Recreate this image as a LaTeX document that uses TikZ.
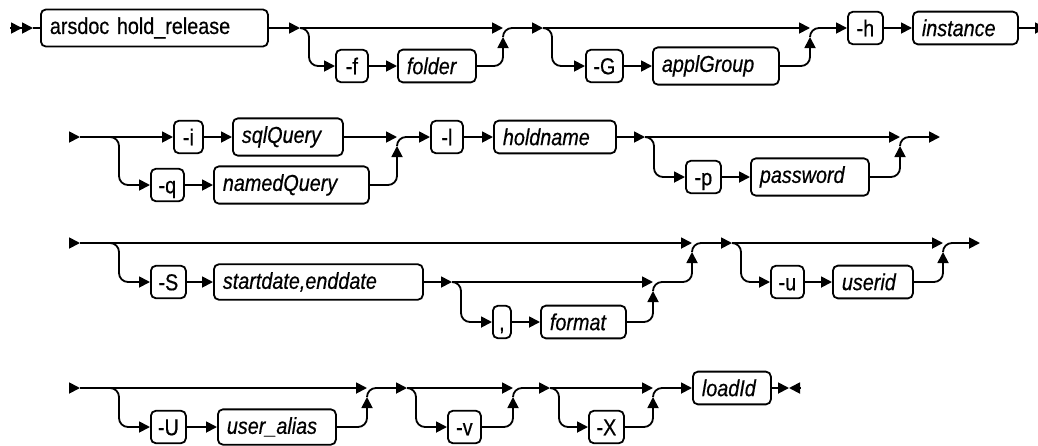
\documentclass[tikz,border=0pt]{standalone}
\usepackage{fontspec}
\setmainfont{Liberation Sans}[FakeStretch=0.86,FakeBold=0.5]
\usetikzlibrary{arrows.meta}
\newcommand\kwfont{\fontsize{23}{27}\selectfont}
\newcommand\varfont{\fontsize{23}{27}\selectfont\itshape}
\tikzset{
  rail/.style={line width=1.8pt},
  tip/.style={-{Triangle[length=11pt,width=11pt]}},
  turn/.style={rounded corners=9pt},
  box/.style={draw,line width=1.8pt,rounded corners=5pt,anchor=west,
    inner xsep=9pt,inner ysep=8pt,text height=16.5pt,font=\kwfont},
  term/.style={box,text width=#1,align=left},
  var/.style={term=#1,font=\varfont},
  opt/.style={box,inner xsep=5pt,text depth=0pt,minimum width=#1,align=center},
}
\begin{document}
\begin{tikzpicture}[x=1pt,y=-1pt,rail]
\clip (0,0) rectangle (1038,445);
% first line
\coordinate (a1) at (10,28);
\coordinate (a2) at (33,28);
\node[term=209] (cmd) at (40,28) {arsdoc hold\_release};
\coordinate (s1) at (300,28);
\node[opt=32] (f) at (335,66) {-f};
\node[var=60] (folder) at (397,66) {folder};
\coordinate (j1) at (503,28);
\coordinate (u1) at (503,37);
\coordinate (k1) at (512,28);
\coordinate (s2) at (543,28);
\node[opt=37] (G) at (585,66) {-G};
\node[var=108] (group) at (652,66) {applGroup};
\coordinate (j2) at (810,28);
\coordinate (u2) at (810,37);
\coordinate (k2) at (819,28);
\node[opt=35] (h) at (847,28) {-h};
\node[var=87] (inst) at (912,28) {instance};
\coordinate (e1) at (1046,28);
\draw[-{Triangle[length=11pt,width=11pt]Triangle[length=11pt,width=11pt]}] (a1) -- (a2);
\draw (a2) -- (cmd.west);
\draw[tip] (cmd.east) -- (s1);
\draw[tip] (s1) -- (j1);
\draw[turn,tip] (s1) -- ++(9,0) |- (f.west);
\draw[tip] (f) -- (folder);
\draw[turn,tip] (folder.east) -| (u1);
\draw (u1) .. controls +(0,-5) and +(-5,0) .. (k1);
\draw[tip] (k1) -- (s2);
\draw[tip] (s2) -- (j2);
\draw[turn,tip] (s2) -- ++(9,0) |- (G.west);
\draw[tip] (G) -- (group);
\draw[turn,tip] (group.east) -| (u2);
\draw (u2) .. controls +(0,-5) and +(-5,0) .. (k2);
\draw[tip] (k2) -- (h);
\draw[tip] (h) -- (inst);
\draw[tip] (inst) -- (e1);
% second line
\coordinate (a3) at (69,137);
\coordinate (a4) at (80,137);
\coordinate (b2) at (110,137);
\node[opt=29] (i) at (173,137) {-i};
\node[var=92] (sql) at (232,137) {sqlQuery};
\node[opt=33] (q) at (150,185) {-q};
\node[var=137] (named) at (213,185) {namedQuery};
\coordinate (j3) at (397,137);
\coordinate (u3) at (397,146);
\coordinate (k3) at (406,137);
\node[opt=32] (l) at (430,137) {-l};
\node[var=104] (hold) at (493,137) {holdname};
\coordinate (s3) at (645,137);
\node[opt=35] (p) at (685,177) {-p};
\node[var=100] (pass) at (750,177) {password};
\coordinate (j4) at (900,137);
\coordinate (u4) at (900,146);
\coordinate (k4) at (909,137);
\coordinate (e2) at (940,137);
\draw[tip] (a3) -- (a4);
\draw[tip] (a4) -- (i);
\draw[turn,tip] (b2) -- ++(9,0) |- (q.west);
\draw[tip] (i) -- (sql);
\draw[tip] (sql) -- (j3);
\draw[tip] (q) -- (named);
\draw[turn,tip] (named.east) -| (u3);
\draw (u3) .. controls +(0,-5) and +(-5,0) .. (k3);
\draw[tip] (k3) -- (l);
\draw[tip] (l) -- (hold);
\draw[tip] (hold) -- (s3);
\draw[tip] (s3) -- (j4);
\draw[turn,tip] (s3) -- ++(9,0) |- (p.west);
\draw[tip] (p) -- (pass);
\draw[turn,tip] (pass.east) -| (u4);
\draw (u4) .. controls +(0,-5) and +(-5,0) .. (k4);
\draw[tip] (k4) -- (e2);
% third line
\coordinate (a5) at (69,243);
\coordinate (a6) at (80,243);
\coordinate (b3) at (110,243);
\node[opt=35] (S) at (150,282) {-S};
\node[var=191] (dates) at (213,282) {startdate,enddate};
\coordinate (s4) at (452,282);
\node[opt=18] (comma) at (492,322) {,};
\node[var=67] (fmt) at (540,322) {format};
\coordinate (j6) at (653,282);
\coordinate (u6) at (653,291);
\coordinate (k6) at (662,282);
\coordinate (j5) at (692,243);
\coordinate (u5) at (692,252);
\coordinate (k5) at (701,243);
\coordinate (s5) at (732,243);
\node[opt=33] (uu) at (770,282) {-u};
\node[var=62] (uid) at (832,282) {userid};
\coordinate (j7) at (943,243);
\coordinate (u7) at (943,252);
\coordinate (k7) at (952,243);
\coordinate (e3) at (980,243);
\draw[tip] (a5) -- (a6);
\draw[tip] (a6) -- (j5);
\draw[turn,tip] (b3) -- ++(9,0) |- (S.west);
\draw[tip] (S) -- (dates);
\draw[tip] (dates) -- (s4);
\draw[tip] (s4) -- (j6);
\draw[turn,tip] (s4) -- ++(9,0) |- (comma.west);
\draw[tip] (comma) -- (fmt);
\draw[turn,tip] (fmt.east) -| (u6);
\draw (u6) .. controls +(0,-5) and +(-5,0) .. (k6);
\draw[turn,tip] (k6) -| (u5);
\draw (u5) .. controls +(0,-5) and +(-5,0) .. (k5);
\draw[tip] (k5) -- (s5);
\draw[tip] (s5) -- (j7);
\draw[turn,tip] (s5) -- ++(9,0) |- (uu.west);
\draw[tip] (uu) -- (uid);
\draw[turn,tip] (uid.east) -| (u7);
\draw (u7) .. controls +(0,-5) and +(-5,0) .. (k7);
\draw[tip] (k7) -- (e3);
% fourth line
\coordinate (a7) at (69,388);
\coordinate (a8) at (80,388);
\coordinate (b4) at (110,388);
\node[opt=35] (U) at (150,427) {-U};
\node[var=100] (alias) at (217,427) {user\_alias};
\coordinate (j8) at (367,388);
\coordinate (u8) at (367,397);
\coordinate (k8) at (376,388);
\coordinate (s6) at (407,388);
\node[opt=33] (v) at (447,427) {-v};
\coordinate (j9) at (513,388);
\coordinate (u9) at (513,397);
\coordinate (k9) at (522,388);
\coordinate (s7) at (550,388);
\node[opt=35] (X) at (588,427) {-X};
\coordinate (j10) at (653,388);
\coordinate (u10) at (653,397);
\coordinate (k10) at (662,388);
\node[var=60] (load) at (692,388) {loadId};
\coordinate (m1) at (789,388);
\coordinate (m2) at (800,388);
\draw[tip] (a7) -- (a8);
\draw[tip] (a8) -- (j8);
\draw[turn,tip] (b4) -- ++(9,0) |- (U.west);
\draw[tip] (U) -- (alias);
\draw[turn,tip] (alias.east) -| (u8);
\draw (u8) .. controls +(0,-5) and +(-5,0) .. (k8);
\draw[tip] (k8) -- (s6);
\draw[tip] (s6) -- (j9);
\draw[turn,tip] (s6) -- ++(9,0) |- (v.west);
\draw[turn,tip] (v.east) -| (u9);
\draw (u9) .. controls +(0,-5) and +(-5,0) .. (k9);
\draw[tip] (k9) -- (s7);
\draw[tip] (s7) -- (j10);
\draw[turn,tip] (s7) -- ++(9,0) |- (X.west);
\draw[turn,tip] (X.east) -| (u10);
\draw (u10) .. controls +(0,-5) and +(-5,0) .. (k10);
\draw[tip] (k10) -- (load);
\draw[tip] (load) -- (m1);
\draw[tip] (m2) -- (m1);
\end{tikzpicture}
\end{document}
